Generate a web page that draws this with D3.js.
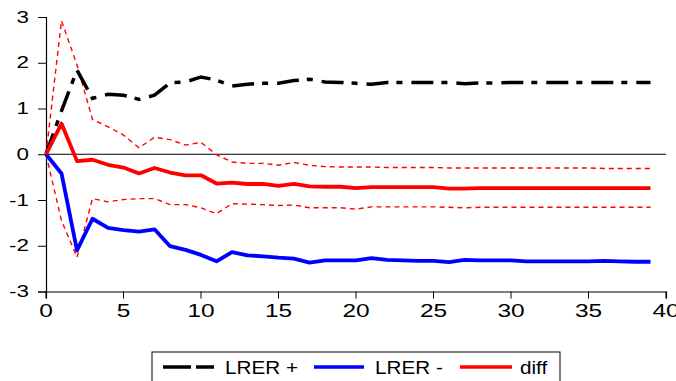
<!DOCTYPE html>
<html>
<head>
<meta charset="utf-8">
<script src="https://cdn.jsdelivr.net/npm/d3@7"></script>
<style>
  body { margin: 0; background: #fff; }
  text { font-family: "Liberation Sans", Arial, sans-serif; fill: #000; }
</style>
</head>
<body>
<svg id="chart"></svg>
<script>
//-------------------------------------------------
// Data
//-------------------------------------------------
var periods = d3.range(0, 40);
var lrerPos = [0, 0.95, 1.84, 1.22, 1.31, 1.29, 1.20, 1.29, 1.56, 1.58, 1.69, 1.62, 1.49, 1.53, 1.55, 1.55, 1.61, 1.64, 1.58, 1.57,
               1.55, 1.53, 1.57, 1.57, 1.57, 1.57, 1.57, 1.54, 1.56, 1.56, 1.57, 1.57, 1.57, 1.57, 1.57, 1.57, 1.57, 1.57, 1.57, 1.57];
var lrerNeg = [0, -0.42, -2.10, -1.41, -1.61, -1.66, -1.69, -1.64, -2.01, -2.09, -2.20, -2.34, -2.14, -2.21, -2.23, -2.26, -2.28, -2.37, -2.32, -2.32,
               -2.32, -2.27, -2.31, -2.32, -2.33, -2.33, -2.36, -2.31, -2.32, -2.32, -2.32, -2.34, -2.34, -2.34, -2.34, -2.34, -2.33, -2.34, -2.35, -2.35];
var diff = [0, 0.67, -0.15, -0.12, -0.23, -0.29, -0.42, -0.30, -0.40, -0.46, -0.46, -0.64, -0.62, -0.65, -0.65, -0.69, -0.65, -0.70, -0.71, -0.71,
            -0.74, -0.72, -0.72, -0.72, -0.72, -0.72, -0.75, -0.75, -0.74, -0.74, -0.74, -0.74, -0.74, -0.74, -0.74, -0.74, -0.74, -0.74, -0.74, -0.74];
var diffUpper = [0, 2.92, 1.95, 0.76, 0.60, 0.42, 0.14, 0.37, 0.32, 0.20, 0.26, -0.01, -0.17, -0.20, -0.20, -0.24, -0.18, -0.24, -0.27, -0.28,
                 -0.28, -0.28, -0.29, -0.29, -0.29, -0.29, -0.30, -0.30, -0.30, -0.30, -0.30, -0.30, -0.30, -0.30, -0.30, -0.30, -0.31, -0.31, -0.31, -0.31];
var diffLower = [0, -1.45, -2.25, -0.97, -1.04, -0.99, -0.97, -0.97, -1.10, -1.10, -1.17, -1.30, -1.08, -1.09, -1.10, -1.12, -1.11, -1.17, -1.17, -1.17,
                 -1.20, -1.15, -1.15, -1.15, -1.15, -1.15, -1.16, -1.17, -1.16, -1.16, -1.16, -1.16, -1.16, -1.16, -1.16, -1.16, -1.16, -1.16, -1.16, -1.16];
var xTicks = [0, 5, 10, 15, 20, 25, 30, 35, 40];
var yTicks = [-3, -2, -1, 0, 1, 2, 3];
var legendNames = ["LRER +", "LRER -", "diff"];
//-------------------------------------------------

var width = 676, height = 381;
var margin = {top: 17, right: 10, bottom: 89.5, left: 46};

var svg = d3.select("#chart")
  .attr("width", width)
  .attr("height", height);

var x = d3.scaleLinear().domain([0, 40]).range([margin.left, 666]);
var y = d3.scaleLinear().domain([-3, 3]).range([height - margin.bottom, margin.top]);

// text in the original is stretched sideways
var sx = 1.4;

// y axis
var yAxis = svg.append("g")
  .attr("transform", "translate(" + margin.left + ",0)")
  .call(d3.axisLeft(y).tickValues(yTicks).tickSize(8).tickPadding(9).tickFormat(function(d){ return String(d); }));
yAxis.select(".domain").attr("stroke", "#000").attr("stroke-width", 1.2);
yAxis.selectAll(".tick line").attr("stroke", "#000");
yAxis.selectAll(".tick text")
  .style("font-size", "16px")
  .attr("x", -17 / sx)
  .attr("transform", "scale(" + sx + ",1)");

// x axis
var xAxis = svg.append("g")
  .attr("transform", "translate(0," + y(-3) + ")")
  .call(d3.axisBottom(x).tickValues(xTicks).tickSize(7).tickPadding(6).tickFormat(function(d){ return String(d); }));
xAxis.select(".domain").attr("stroke", "#000").attr("stroke-width", 1.2);
xAxis.selectAll(".tick line").attr("stroke", "#000");
xAxis.selectAll(".tick text")
  .style("font-size", "17.5px")
  .attr("transform", "scale(" + sx + ",1)");
// ticks are translated, so keep label centred after stretching
xAxis.selectAll(".tick").each(function(d){
  d3.select(this).attr("transform", "translate(" + x(d) + ",0)");
});

// zero line
svg.append("line")
  .attr("x1", x(0)).attr("x2", x(40))
  .attr("y1", y(0)).attr("y2", y(0))
  .attr("stroke", "#000")
  .attr("stroke-width", 1);

var line = function(vals){
  return d3.line()
    .x(function(d, i){ return x(periods[i]); })
    .y(function(d){ return y(d); })(vals);
};

// confidence bands of diff
svg.append("path").attr("d", line(diffUpper))
  .attr("fill", "none").attr("stroke", "#ff0000").attr("stroke-width", 1.4)
  .attr("stroke-dasharray", "5,4");
svg.append("path").attr("d", line(diffLower))
  .attr("fill", "none").attr("stroke", "#ff0000").attr("stroke-width", 1.4)
  .attr("stroke-dasharray", "5,4");

// LRER +
svg.append("path").attr("d", line(lrerPos))
  .attr("fill", "none").attr("stroke", "#000").attr("stroke-width", 3.5)
  .attr("stroke-dasharray", "22,8,6,9");

// LRER -
svg.append("path").attr("d", line(lrerNeg))
  .attr("fill", "none").attr("stroke", "#0000ff").attr("stroke-width", 3.8)
  .attr("stroke-linejoin", "round");

// diff
svg.append("path").attr("d", line(diff))
  .attr("fill", "none").attr("stroke", "#ff0000").attr("stroke-width", 3.8)
  .attr("stroke-linejoin", "round");

// legend
var key = svg.append("g").attr("class", "legend");
key.append("rect")
  .attr("x", 152).attr("y", 352)
  .attr("width", 408).attr("height", 40)
  .attr("fill", "#fff").attr("stroke", "#000").attr("stroke-width", 1);

var legendItems = [
  {color: "#000", dash: "28,5,18", x1: 163, x2: 215, tx: 225},
  {color: "#0000ff", dash: null, x1: 314, x2: 364, tx: 375},
  {color: "#ff0000", dash: null, x1: 460, x2: 512, tx: 520}
];
legendItems.forEach(function(it, i){
  key.append("line")
    .attr("x1", it.x1).attr("x2", it.x2)
    .attr("y1", 367).attr("y2", 367)
    .attr("stroke", it.color).attr("stroke-width", 3.5)
    .attr("stroke-dasharray", it.dash);
  key.append("text")
    .attr("x", it.tx / 1.15).attr("y", 374)
    .attr("transform", "scale(1.15,1)")
    .style("font-size", "18px")
    .text(legendNames[i]);
});
</script>
</body>
</html>
